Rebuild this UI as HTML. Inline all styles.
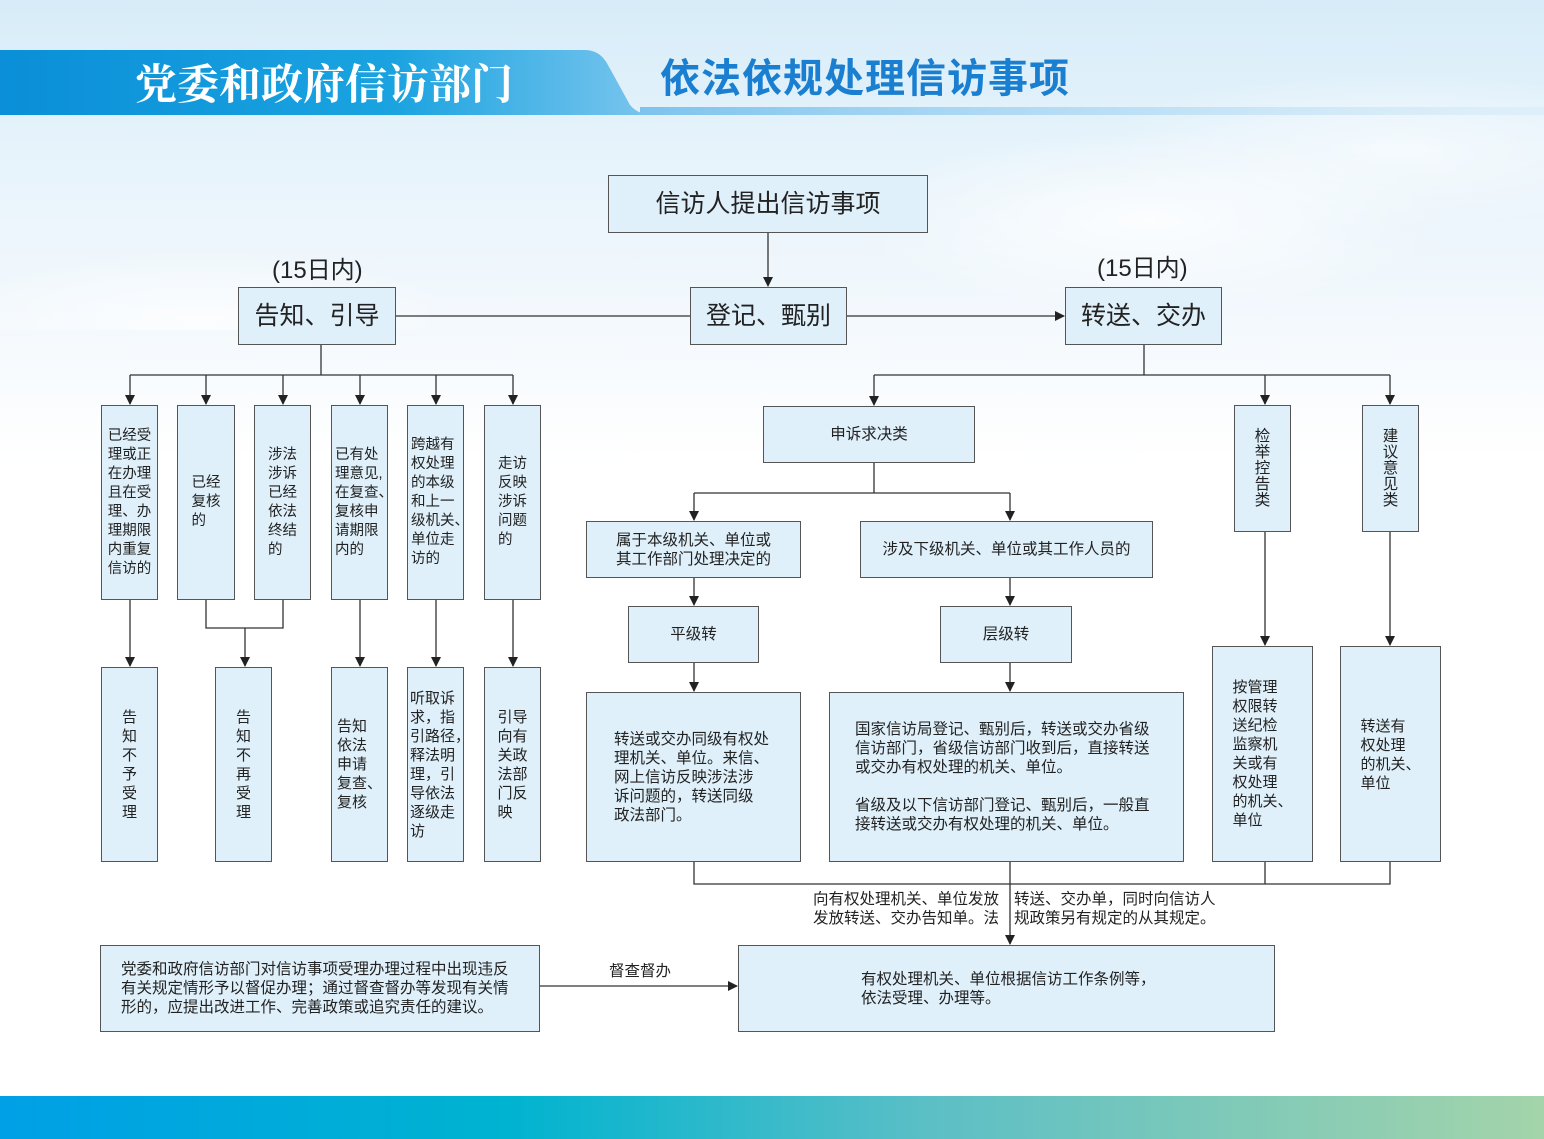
<!DOCTYPE html>
<html><head><meta charset="utf-8"><style>
*{margin:0;padding:0;box-sizing:border-box}
body{width:1544px;height:1139px;position:relative;overflow:hidden;font-family:"Liberation Sans","Noto Sans CJK SC",sans-serif;color:#222;
background:linear-gradient(180deg,#d7ecf8 0px,#e6f3fb 150px,#f4f9fd 330px,#ffffff 460px,#ffffff 100%)}
.b{position:absolute;background:#dff0fa;border:1.5px solid #555;display:flex;align-items:center;justify-content:center;font-size:15px;line-height:19px;white-space:nowrap;text-align:left}
.s{font-size:15.5px;line-height:19px}
.v{font-size:15px;line-height:19px;text-align:center}
.big{font-size:25px}
.t{position:absolute;white-space:nowrap}
svg{position:absolute;left:0;top:0}
</style></head><body>
<div style="position:absolute;left:0;top:0;width:1544px;height:330px;background:radial-gradient(ellipse 300px 90px at 1150px 220px,rgba(255,255,255,.8),transparent),radial-gradient(ellipse 260px 70px at 200px 320px,rgba(255,255,255,.7),transparent),radial-gradient(ellipse 300px 80px at 1400px 150px,rgba(255,255,255,.6),transparent)"></div>
<svg width="1544" height="140">
<defs><linearGradient id="g1" x1="0" x2="1"><stop offset="0" stop-color="#0a8fd8"/><stop offset="0.6" stop-color="#1aa3e0"/><stop offset="1" stop-color="#7cc6ee"/></linearGradient>
<linearGradient id="g2" x1="0" x2="1"><stop offset="0" stop-color="#7dc3ee"/><stop offset="1" stop-color="#cfe8f7" stop-opacity=".4"/></linearGradient></defs>
<path d="M0,50 L585,50 Q600,50 608,65 L630,105 Q638,115 655,115 L0,115 Z" fill="url(#g1)"/>
<rect x="640" y="107" width="904" height="8" fill="url(#g2)"/>
</svg>
<div class="t" style="left:135px;top:52px;font-size:42px;color:#fff;font-weight:bold;font-family:'Noto Serif CJK SC',serif">党委和政府信访部门</div>
<div class="t" style="left:660px;top:46px;font-size:40px;color:#1a7fd0;font-weight:bold;font-family:'Noto Sans CJK SC',sans-serif;letter-spacing:1px">依法依规处理信访事项</div>

<svg width="1544" height="1139" style="z-index:0">
<defs><marker id="a" markerWidth="10" markerHeight="10" refX="9" refY="5" orient="auto" markerUnits="userSpaceOnUse"><path d="M0,0 L10,5 L0,10 Z" fill="#222"/></marker></defs>
<g stroke="#333" stroke-width="1.3" fill="none">
<line x1="768" y1="233" x2="768" y2="286" marker-end="url(#a)"/>
<line x1="396" y1="316" x2="690" y2="316"/>
<line x1="847" y1="316" x2="1064" y2="316" marker-end="url(#a)"/>
<line x1="321" y1="345" x2="321" y2="375"/>
<line x1="130" y1="375" x2="513" y2="375"/>
<line x1="130" y1="375" x2="130" y2="404" marker-end="url(#a)"/>
<line x1="206" y1="375" x2="206" y2="404" marker-end="url(#a)"/>
<line x1="283" y1="375" x2="283" y2="404" marker-end="url(#a)"/>
<line x1="360" y1="375" x2="360" y2="404" marker-end="url(#a)"/>
<line x1="436" y1="375" x2="436" y2="404" marker-end="url(#a)"/>
<line x1="513" y1="375" x2="513" y2="404" marker-end="url(#a)"/>
<line x1="130" y1="600" x2="130" y2="666" marker-end="url(#a)"/>
<path d="M206,600 V628 H283 V600"/>
<line x1="245" y1="628" x2="245" y2="666" marker-end="url(#a)"/>
<line x1="360" y1="600" x2="360" y2="666" marker-end="url(#a)"/>
<line x1="436" y1="600" x2="436" y2="666" marker-end="url(#a)"/>
<line x1="513" y1="600" x2="513" y2="666" marker-end="url(#a)"/>
<line x1="1144" y1="345" x2="1144" y2="375"/>
<line x1="874" y1="375" x2="1390" y2="375"/>
<line x1="874" y1="375" x2="874" y2="405" marker-end="url(#a)"/>
<line x1="1265" y1="375" x2="1265" y2="404" marker-end="url(#a)"/>
<line x1="1390" y1="375" x2="1390" y2="404" marker-end="url(#a)"/>
<line x1="874" y1="463" x2="874" y2="493"/>
<line x1="694" y1="493" x2="1010" y2="493"/>
<line x1="694" y1="493" x2="694" y2="520" marker-end="url(#a)"/>
<line x1="1010" y1="493" x2="1010" y2="520" marker-end="url(#a)"/>
<line x1="694" y1="578" x2="694" y2="605" marker-end="url(#a)"/>
<line x1="1010" y1="578" x2="1010" y2="605" marker-end="url(#a)"/>
<line x1="694" y1="663" x2="694" y2="691" marker-end="url(#a)"/>
<line x1="1010" y1="663" x2="1010" y2="691" marker-end="url(#a)"/>
<line x1="1265" y1="532" x2="1265" y2="645" marker-end="url(#a)"/>
<line x1="1390" y1="532" x2="1390" y2="645" marker-end="url(#a)"/>
<path d="M694,862 V884 H1390 V862 M1265,862 V884"/>
<line x1="1010" y1="862" x2="1010" y2="944" marker-end="url(#a)"/>
<line x1="540" y1="986" x2="737" y2="986" marker-end="url(#a)"/>
</g></svg>

<div class="b big" style="left:608px;top:175px;width:320px;height:58px">信访人提出信访事项</div>
<div class="t" style="left:272px;top:250px;font-size:24px">(15日内)</div>
<div class="t" style="left:1097px;top:248px;font-size:24px">(15日内)</div>
<div class="b big" style="left:238px;top:287px;width:158px;height:58px">告知、引导</div>
<div class="b big" style="left:690px;top:287px;width:157px;height:58px">登记、甄别</div>
<div class="b big" style="left:1065px;top:287px;width:157px;height:58px">转送、交办</div>

<div class="b" style="left:101px;top:405px;width:57px;height:195px;font-size:14.5px">已经受<br>理或正<br>在办理<br>且在受<br>理、办<br>理期限<br>内重复<br>信访的</div>
<div class="b" style="left:177px;top:405px;width:58px;height:195px;font-size:14.5px">已经<br>复核<br>的</div>
<div class="b" style="left:254px;top:405px;width:57px;height:195px;font-size:14.5px">涉法<br>涉诉<br>已经<br>依法<br>终结<br>的</div>
<div class="b" style="left:331px;top:405px;width:57px;height:195px;font-size:14.5px;justify-content:flex-start;padding-left:3px">已有处<br>理意见,<br>在复查、<br>复核申<br>请期限<br>内的</div>
<div class="b" style="left:407px;top:405px;width:57px;height:195px;font-size:14.5px;justify-content:flex-start;padding-left:3px">跨越有<br>权处理<br>的本级<br>和上一<br>级机关、<br>单位走<br>访的</div>
<div class="b" style="left:484px;top:405px;width:57px;height:195px;font-size:14.5px">走访<br>反映<br>涉诉<br>问题<br>的</div>

<div class="b v" style="left:101px;top:667px;width:57px;height:195px">告<br>知<br>不<br>予<br>受<br>理</div>
<div class="b v" style="left:215px;top:667px;width:57px;height:195px">告<br>知<br>不<br>再<br>受<br>理</div>
<div class="b" style="left:331px;top:667px;width:57px;height:195px">告知<br>依法<br>申请<br>复查、<br>复核</div>
<div class="b" style="left:407px;top:667px;width:57px;height:195px;justify-content:flex-start;padding-left:2px">听取诉<br>求，指<br>引路径，<br>释法明<br>理，引<br>导依法<br>逐级走<br>访</div>
<div class="b" style="left:484px;top:667px;width:57px;height:195px">引导<br>向有<br>关政<br>法部<br>门反<br>映</div>

<div class="b s" style="left:763px;top:406px;width:212px;height:57px">申诉求决类</div>
<div class="b s" style="left:586px;top:521px;width:215px;height:57px">属于本级机关、单位或<br>其工作部门处理决定的</div>
<div class="b s" style="left:860px;top:521px;width:293px;height:57px">涉及下级机关、单位或其工作人员的</div>
<div class="b s" style="left:628px;top:606px;width:131px;height:57px">平级转</div>
<div class="b s" style="left:940px;top:606px;width:132px;height:57px">层级转</div>
<div class="b s" style="left:586px;top:692px;width:215px;height:170px;justify-content:flex-start;padding-left:27px">转送或交办同级有权处<br>理机关、单位。来信、<br>网上信访反映涉法涉<br>诉问题的，转送同级<br>政法部门。</div>
<div class="b s" style="left:829px;top:692px;width:355px;height:170px;justify-content:flex-start;padding-left:25px">国家信访局登记、甄别后，转送或交办省级<br>信访部门，省级信访部门收到后，直接转送<br>或交办有权处理的机关、单位。<br><br>省级及以下信访部门登记、甄别后，一般直<br>接转送或交办有权处理的机关、单位。</div>
<div class="b s" style="left:1234px;top:405px;width:57px;height:127px;line-height:16px;text-align:center">检<br>举<br>控<br>告<br>类</div>
<div class="b s" style="left:1362px;top:405px;width:57px;height:127px;line-height:16px;text-align:center">建<br>议<br>意<br>见<br>类</div>
<div class="b" style="left:1212px;top:646px;width:101px;height:216px">按管理<br>权限转<br>送纪检<br>监察机<br>关或有<br>权处理<br>的机关、<br>单位</div>
<div class="b" style="left:1340px;top:646px;width:101px;height:216px;align-items:flex-start;padding-top:70px">转送有<br>权处理<br>的机关、<br>单位</div>

<div class="t s" style="left:813px;top:890px">向有权处理机关、单位发放</div>
<div class="t s" style="left:1014px;top:890px">转送、交办单，同时向信访人</div>
<div class="t s" style="left:813px;top:909px">发放转送、交办告知单。法</div>
<div class="t s" style="left:1014px;top:909px">规政策另有规定的从其规定。</div>

<div class="b s" style="left:100px;top:945px;width:440px;height:87px;justify-content:flex-start;padding-left:20px">党委和政府信访部门对信访事项受理办理过程中出现违反<br>有关规定情形予以督促办理；通过督查督办等发现有关情<br>形的，应提出改进工作、完善政策或追究责任的建议。</div>
<div class="t s" style="left:609px;top:962px">督查督办</div>
<div class="b s" style="left:738px;top:945px;width:537px;height:87px;justify-content:flex-start;padding-left:122px">有权处理机关、单位根据信访工作条例等，<br>依法受理、办理等。</div>

<div style="position:absolute;left:0;top:1096px;width:1544px;height:43px;background:linear-gradient(90deg,#00a0e6 0%,#00b3d0 33%,#5bbfc6 60%,#a4d4aa 100%)"></div>
</body></html>
